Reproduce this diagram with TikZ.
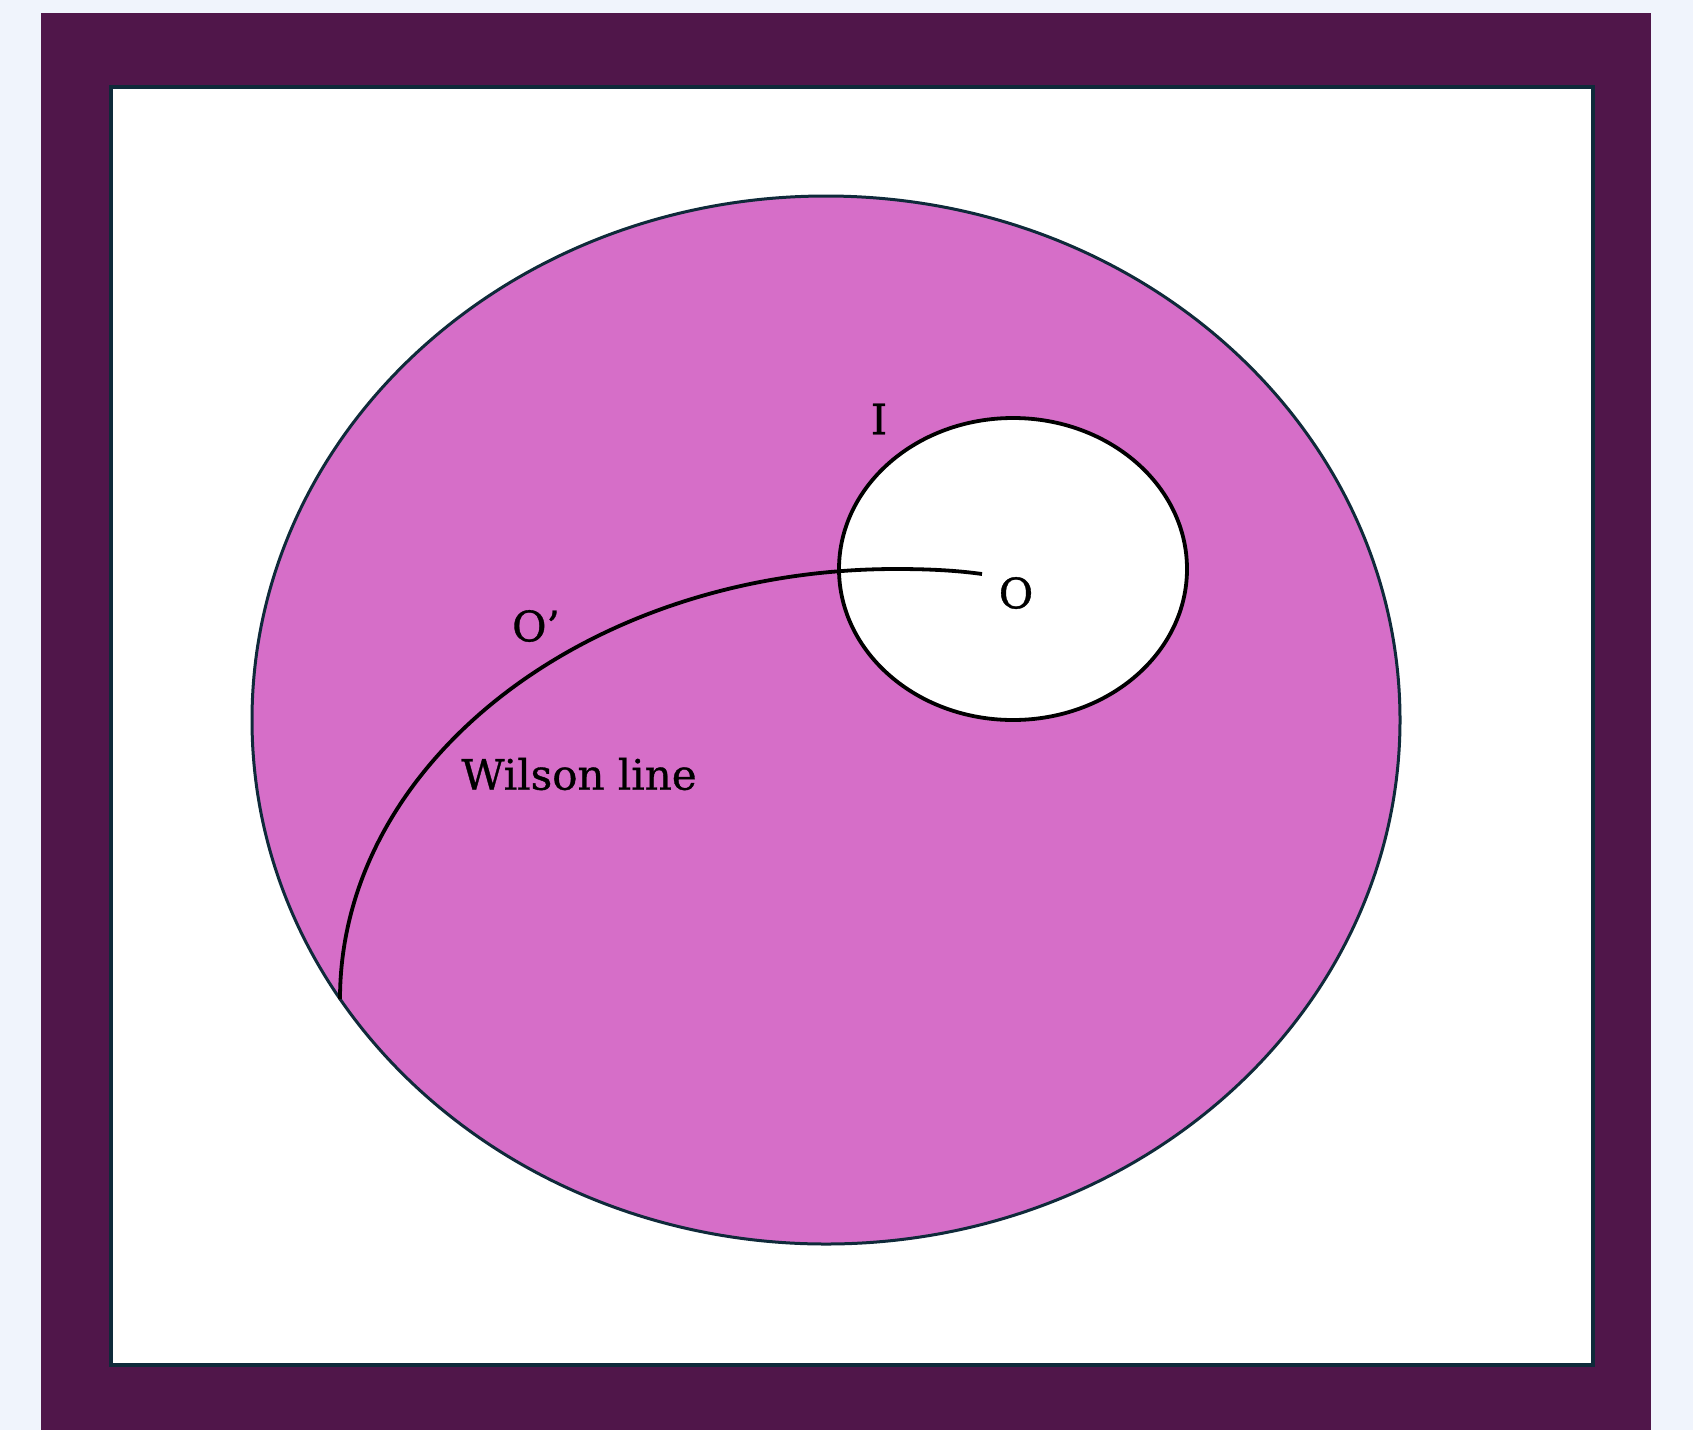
\documentclass[tikz,border=0pt]{standalone}
\usepackage{fontspec}
\setmainfont{DejaVu Serif}[FakeBold=0.8]
\usetikzlibrary{shapes.geometric}
\definecolor{bgc}{HTML}{F0F4FC}
\definecolor{framec}{HTML}{50164A}
\definecolor{edgec}{HTML}{0F2A3A}
\definecolor{fillc}{HTML}{D66EC8}
\tikzset{
  lbl/.style={font=\fontsize{42}{48}\selectfont, text=black, inner sep=0pt},
  wline/.style={draw=black, line width=3.8pt},
}
\begin{document}
\begin{tikzpicture}[x=1pt,y=-1pt]
\useasboundingbox (0,0) rectangle (1693,1430);
\fill[bgc] (0,0) rectangle (1693,1430);
\fill[framec] (41,13) rectangle (1651,1430);
\draw[edgec, fill=white, line width=4pt] (111,87) rectangle (1593,1365);
\node[ellipse, draw=edgec, fill=fillc, line width=3pt, minimum width=1148pt, minimum height=1048pt, inner sep=0pt] (big) at (826,720) {};
\node[ellipse, draw=black, fill=white, line width=3.8pt, minimum width=348pt, minimum height=302pt, inner sep=0pt] (small) at (1013,569) {};
\coordinate (wstart) at (340,999);
\coordinate (wtop) at (896,569);
\coordinate (wend) at (982,574);
\draw[wline] (wstart) .. controls (340,761.5) and (589,569) .. (wtop) .. controls (935,569) and (960,571) .. (wend);
\node[lbl] (I) at (879,419) {I};
\node[lbl] (O) at (1016,593) {O};
\node[lbl] (Op) at (536,626) {O’};
\node[lbl] (wl) at (579,774) {Wilson line};
\end{tikzpicture}
\end{document}
